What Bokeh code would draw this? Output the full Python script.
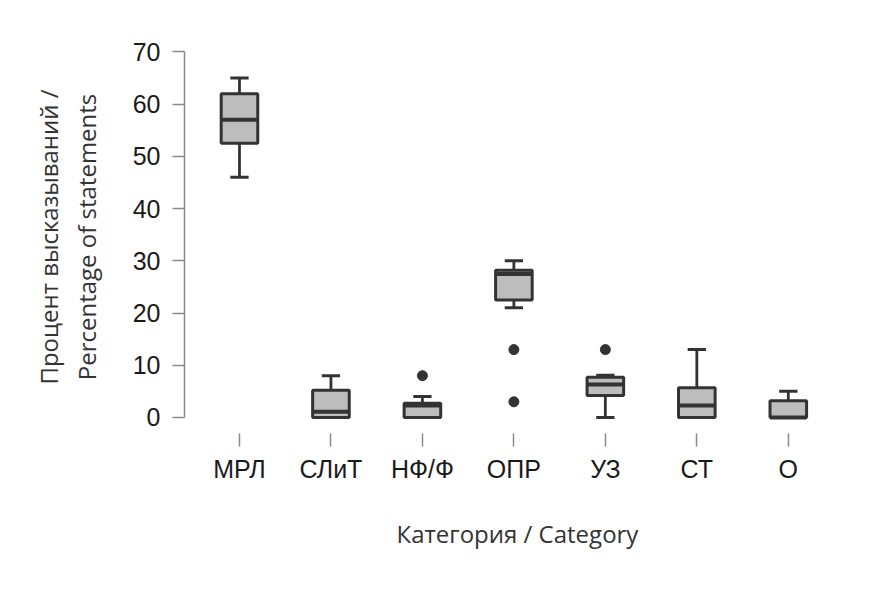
import numpy as np
from bokeh.plotting import figure
from bokeh.models import FixedTicker, Range1d
from bokeh.embed import file_html
from bokeh.resources import INLINE

categories = ["МРЛ", "СЛиТ", "НФ/Ф", "ОПР", "УЗ", "СТ", "О"]
lower_whisker = [46, 0, 0, 21, 0, 0, 0]
q1 = [52.5, 0, 0, 22.5, 4.2, 0, 0]
median = [57, 1.1, 2.3, 27.5, 6.3, 2.3, 0]
q3 = [62, 5.2, 2.7, 28.2, 7.7, 5.7, 3.2]
upper_whisker = [65, 8, 4, 30, 8.1, 13, 5]
outlier_cat = ["НФ/Ф", "ОПР", "ОПР", "УЗ"]
outlier_val = [8, 13, 3, 13]
y_ticks = [0, 10, 20, 30, 40, 50, 60, 70]

xs = np.arange(1, len(categories) + 1)
pos = {c: i + 1 for i, c in enumerate(categories)}
ox = [pos[c] for c in outlier_cat]
bw = 0.4
cw = 0.2

p = figure(width=881, height=589, output_backend="svg", toolbar_location=None,
           x_range=Range1d(0.399, 7.68), y_range=Range1d(-3.07, 72.2),
           min_border_left=184, min_border_right=31, min_border_top=40,
           min_border_bottom=156)
p.outline_line_color = None
p.grid.visible = False
p.background_fill_color = "white"
p.border_fill_color = "white"

dark = "#333333"
fill = "#bdbdbd"

# whiskers
p.segment(x0=xs, y0=q3, x1=xs, y1=upper_whisker, line_color=dark, line_width=2.8)
p.segment(x0=xs, y0=q1, x1=xs, y1=lower_whisker, line_color=dark, line_width=2.8)
# caps
p.segment(x0=xs - cw / 2, y0=upper_whisker, x1=xs + cw / 2, y1=upper_whisker,
          line_color=dark, line_width=3)
p.segment(x0=xs - cw / 2, y0=lower_whisker, x1=xs + cw / 2, y1=lower_whisker,
          line_color=dark, line_width=3)
# boxes
p.vbar(x=xs, width=bw, bottom=q1, top=q3, fill_color=fill, line_color=dark,
       line_width=3)
# medians
p.segment(x0=xs - bw / 2, y0=median, x1=xs + bw / 2, y1=median,
          line_color=dark, line_width=4)
# outliers
p.scatter(x=ox, y=outlier_val, size=10, fill_color=dark, line_color=dark)

# y axis
ya = p.yaxis[0]
ya.ticker = FixedTicker(ticks=y_ticks)
ya.bounds = (0, 70)
ya.axis_line_color = "#8a8a8a"
ya.axis_line_width = 1.5
ya.major_tick_line_color = "#8a8a8a"
ya.major_tick_line_width = 1.5
ya.major_tick_in = 0
ya.major_tick_out = 12
ya.minor_tick_line_color = None
ya.major_label_standoff = 12
ya.major_label_text_font = "Liberation Sans"
ya.major_label_text_font_size = "25px"
ya.major_label_text_color = "#1a1a1a"
ya.axis_label = "Процент высказываний /\nPercentage of statements"
ya.axis_label_text_font = "Open Sans"
ya.axis_label_text_font_style = "normal"
ya.axis_label_text_font_size = "24px"
ya.axis_label_text_color = "#333333"
ya.axis_label_text_line_height = 1.15
ya.axis_label_standoff = 27

# x axis
xa = p.xaxis[0]
xa.ticker = FixedTicker(ticks=list(xs))
xa.major_label_overrides = {int(i): c for i, c in zip(xs, categories)}
xa.axis_line_color = None
xa.major_tick_line_color = "#8a8a8a"
xa.major_tick_line_width = 1.5
xa.major_tick_in = 0
xa.major_tick_out = 13
xa.minor_tick_line_color = None
xa.major_label_standoff = 8
xa.major_label_text_font = "Liberation Sans"
xa.major_label_text_font_size = "25px"
xa.major_label_text_color = "#1a1a1a"
xa.axis_label = "Категория / Category"
xa.axis_label_text_font = "Open Sans"
xa.axis_label_text_font_style = "normal"
xa.axis_label_text_font_size = "24px"
xa.axis_label_text_color = "#333333"
xa.axis_label_standoff = 31

open("out.html", "w").write(file_html(p, INLINE))
